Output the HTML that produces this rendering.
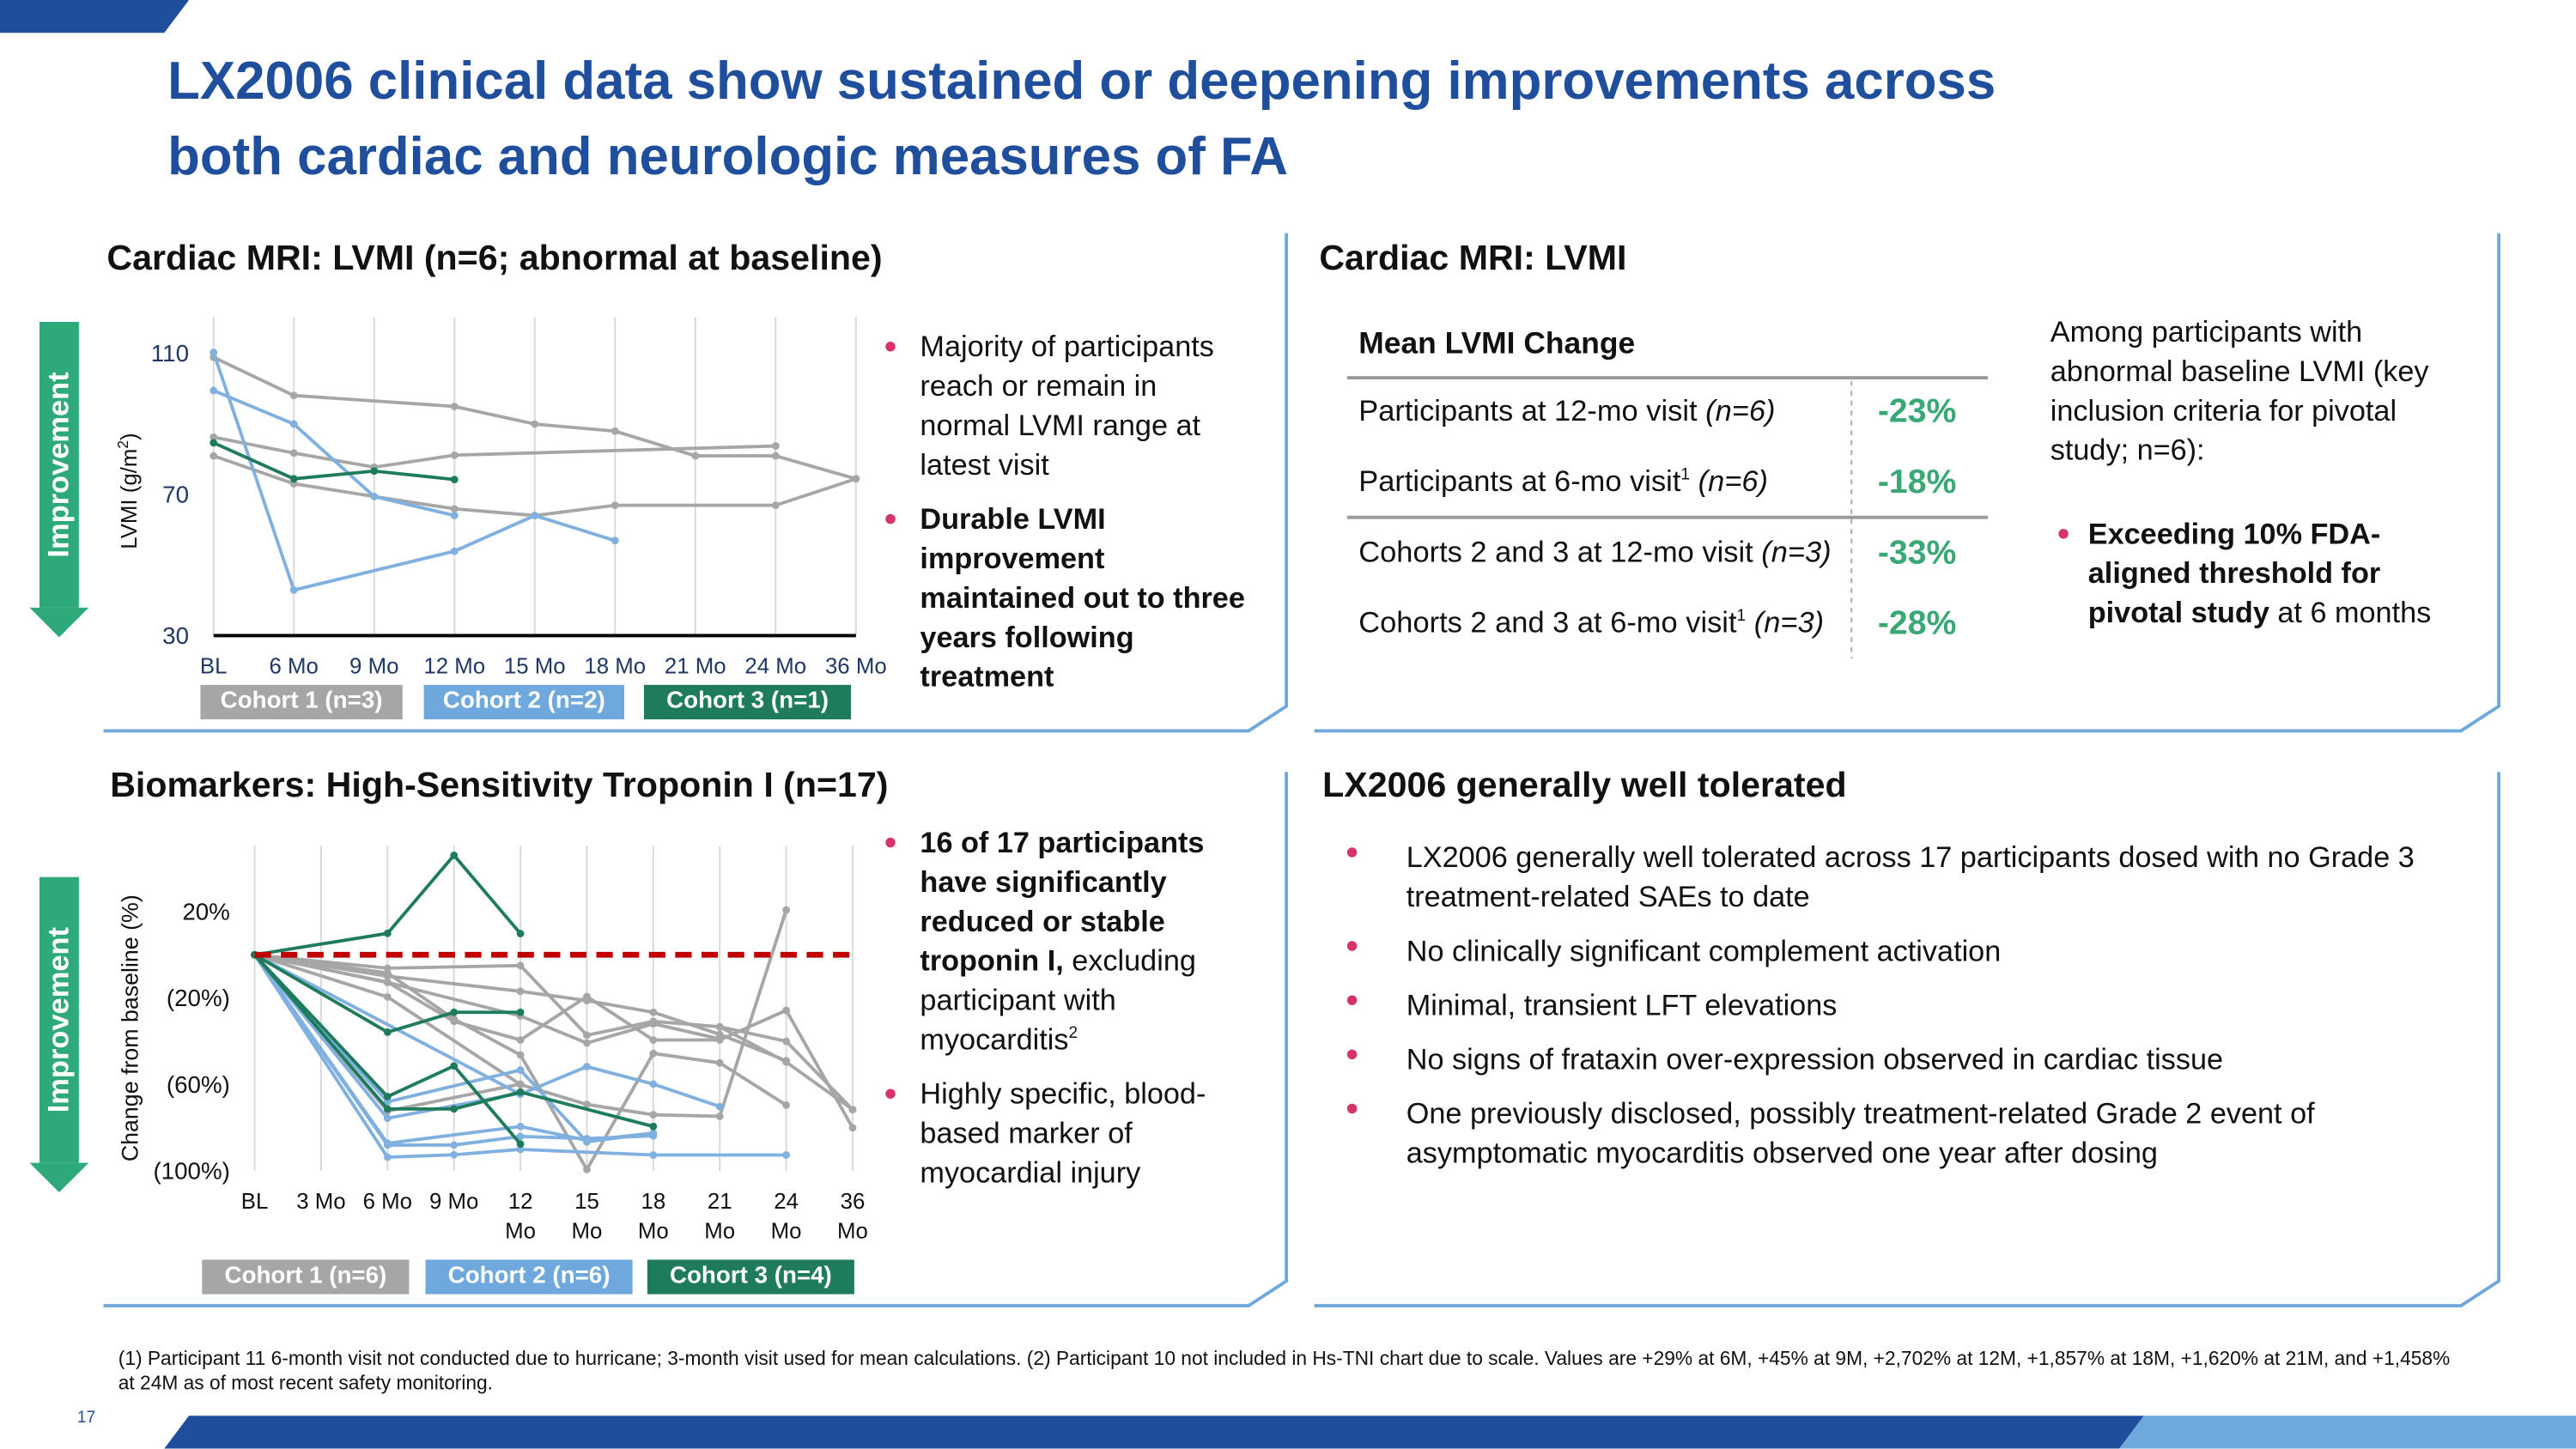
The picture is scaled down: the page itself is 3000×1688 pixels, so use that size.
<!DOCTYPE html>
<html><head><meta charset="utf-8"><style>
html,body{margin:0;padding:0;background:#fff;width:3000px;height:1687px;overflow:hidden}
#s{position:absolute;left:0;top:0;width:1568px;height:882px;transform:scale(1.91327);transform-origin:0 0;font-family:"Liberation Sans",sans-serif;color:#111}
.a{position:absolute;white-space:nowrap}
.t{color:#1f4e9c;font-weight:bold;font-size:32.3px}
.h{font-weight:bold;font-size:21.5px}
.b{font-size:17.9px;line-height:24px}
.dot{position:absolute;width:6px;height:6px;border-radius:50%;background:#d6336c}
.lg{position:absolute;color:#fff;font-weight:bold;font-size:14.5px;text-align:center;line-height:21px;height:21px}
</style></head><body><div id="s">
<svg width="1568" height="882" style="position:absolute;left:0;top:0">
<polygon points="0,0 115,0 100,20 0,20" fill="#1f4e9c"/>
<polygon points="115,862 1305,862 1290,882 100,882" fill="#1f4e9c"/>
<polygon points="1305,862 1568,862 1568,882 1290,882" fill="#6fa8dc"/>
<g fill="none" stroke="#6fa8dc" stroke-width="2">
<polyline points="63,445 760,445 783,430 783,142"/>
<polyline points="800,445 1498,445 1521,430 1521,142"/>
<polyline points="63,795 760,795 783,780 783,470"/>
<polyline points="800,795 1498,795 1521,780 1521,470"/>
</g>
<g fill="#2eaa7a">
<rect x="24" y="196" width="24" height="174"/><polygon points="18,370 54,370 36,388"/>
<rect x="24" y="534" width="24" height="174"/><polygon points="18,708 54,708 36,726"/>
</g>
<line x1="820" y1="230" x2="1210" y2="230" stroke="#999" stroke-width="2"/>
<line x1="820" y1="315" x2="1210" y2="315" stroke="#999" stroke-width="2"/>
<line x1="1127" y1="232" x2="1127" y2="401" stroke="#aaa" stroke-width="1" stroke-dasharray="3,3"/>
</svg>
<div class="a" style="left:36px;top:283px;transform:translate(-50%,-50%) rotate(-90deg);color:#fff;font-weight:bold;font-size:18px">Improvement</div>
<div class="a" style="left:36px;top:621px;transform:translate(-50%,-50%) rotate(-90deg);color:#fff;font-weight:bold;font-size:18px">Improvement</div>

<div class="a t" style="left:102px;top:31px">LX2006 clinical data show sustained or deepening improvements across</div>
<div class="a t" style="left:102px;top:77px">both cardiac and neurologic measures of FA</div>

<div class="a h" style="left:65px;top:145px">Cardiac MRI: LVMI (n=6; abnormal at baseline)</div>
<div class="a h" style="left:803px;top:145px">Cardiac MRI: LVMI</div>
<div class="a h" style="left:67px;top:466px">Biomarkers: High-Sensitivity Troponin I (n=17)</div>
<div class="a h" style="left:805px;top:466px">LX2006 generally well tolerated</div>

<svg id="c1" width="1568" height="882" style="position:absolute;left:0;top:0"></svg>
<svg id="c2" width="1568" height="882" style="position:absolute;left:0;top:0"></svg>

<div class="lg" style="left:122px;top:417px;width:123px;background:#a6a6a6">Cohort 1 (n=3)</div>
<div class="lg" style="left:258px;top:417px;width:122px;background:#6fa8dc">Cohort 2 (n=2)</div>
<div class="lg" style="left:392px;top:417px;width:126px;background:#1e7b5c">Cohort 3 (n=1)</div>
<div class="lg" style="left:123px;top:767px;width:126px;background:#a6a6a6">Cohort 1 (n=6)</div>
<div class="lg" style="left:259px;top:767px;width:126px;background:#6fa8dc">Cohort 2 (n=6)</div>
<div class="lg" style="left:394px;top:767px;width:126px;background:#1e7b5c">Cohort 3 (n=4)</div>

<div class="dot" style="left:539px;top:208px"></div>
<div class="a b" style="left:560px;top:199px">Majority of participants<br>reach or remain in<br>normal LVMI range at<br>latest visit</div>
<div class="dot" style="left:539px;top:313px"></div>
<div class="a b" style="left:560px;top:304px;font-weight:bold">Durable LVMI<br>improvement<br>maintained out to three<br>years following<br>treatment</div>
<div class="dot" style="left:539px;top:510px"></div>
<div class="a b" style="left:560px;top:501px"><b>16 of 17 participants<br>have significantly<br>reduced or stable<br>troponin I,</b> excluding<br>participant with<br>myocarditis<sup style="font-size:10px;line-height:0">2</sup></div>
<div class="dot" style="left:539px;top:663px"></div>
<div class="a b" style="left:560px;top:654px">Highly specific, blood-<br>based marker of<br>myocardial injury</div>

<div class="a" style="left:827px;top:198px;font-weight:bold;font-size:18.5px">Mean LVMI Change</div>
<div class="a" style="left:827px;top:240px;font-size:18px">Participants at 12-mo visit <i>(n=6)</i></div>
<div class="a" style="left:827px;top:283px;font-size:18px">Participants at 6-mo visit<sup style="font-size:10px;line-height:0">1</sup> <i>(n=6)</i></div>
<div class="a" style="left:827px;top:326px;font-size:18px">Cohorts 2 and 3 at 12-mo visit <i>(n=3)</i></div>
<div class="a" style="left:827px;top:369px;font-size:18px">Cohorts 2 and 3 at 6-mo visit<sup style="font-size:10px;line-height:0">1</sup> <i>(n=3)</i></div>
<div class="a" style="left:1143px;top:239px;font-size:20.5px;font-weight:bold;color:#3aa875">-23%</div>
<div class="a" style="left:1143px;top:282px;font-size:20.5px;font-weight:bold;color:#3aa875">-18%</div>
<div class="a" style="left:1143px;top:325px;font-size:20.5px;font-weight:bold;color:#3aa875">-33%</div>
<div class="a" style="left:1143px;top:368px;font-size:20.5px;font-weight:bold;color:#3aa875">-28%</div>
<div class="a b" style="left:1248px;top:190px">Among participants with<br>abnormal baseline LVMI (key<br>inclusion criteria for pivotal<br>study; n=6):</div>
<div class="dot" style="left:1253px;top:322px"></div>
<div class="a b" style="left:1271px;top:313px"><b>Exceeding 10% FDA-<br>aligned threshold for<br>pivotal study</b> at 6 months</div>

<div class="dot" style="left:820px;top:516px"></div>
<div class="a b" style="left:856px;top:510px">LX2006 generally well tolerated across 17 participants dosed with no Grade 3<br>treatment-related SAEs to date</div>
<div class="dot" style="left:820px;top:573px"></div>
<div class="a b" style="left:856px;top:567px">No clinically significant complement activation</div>
<div class="dot" style="left:820px;top:606px"></div>
<div class="a b" style="left:856px;top:600px">Minimal, transient LFT elevations</div>
<div class="dot" style="left:820px;top:639px"></div>
<div class="a b" style="left:856px;top:633px">No signs of frataxin over-expression observed in cardiac tissue</div>
<div class="dot" style="left:820px;top:672px"></div>
<div class="a b" style="left:856px;top:666px">One previously disclosed, possibly treatment-related Grade 2 event of<br>asymptomatic myocarditis observed one year after dosing</div>

<div class="a" style="left:72px;top:820px;font-size:11.9px;line-height:15px">(1) Participant 11 6-month visit not conducted due to hurricane; 3-month visit used for mean calculations. (2) Participant 10 not included in Hs-TNI chart due to scale. Values are +29% at 6M, +45% at 9M, +2,702% at 12M, +1,857% at 18M, +1,620% at 21M, and +1,458%<br>at 24M as of most recent safety monitoring.</div>
<div class="a" style="left:47px;top:858px;font-size:10px;color:#1f4e9c">17</div>

<script>
const NS='http://www.w3.org/2000/svg';
// ---- LVMI chart data ----
const lvmiCats=['BL','6 Mo','9 Mo','12 Mo','15 Mo','18 Mo','21 Mo','24 Mo','36 Mo'];
const lvmiTicks=[110,70,30];
const lvmiGray1=[108.8,98,null,94.9,89.9,87.9,80.9,80.9,74.4];
const lvmiGray2=[86.2,81.7,77.7,81.1,null,null,null,83.7,null];
const lvmiGray3=[80.9,73,69.4,65.9,64,66.9,null,66.9,74.4];
const lvmiBlue1=[110.2,42.9,null,53.9,64,56.9,null,null,null];
const lvmiBlue2=[99.4,89.9,69.4,64,null,null,null,null,null];
const lvmiGreen1=[84.6,74.4,76.6,74.2,null,null,null,null,null];
// ---- Troponin chart data ----
const tnCats=[['BL'],['3 Mo'],['6 Mo'],['9 Mo'],['12','Mo'],['15','Mo'],['18','Mo'],['21','Mo'],['24','Mo'],['36','Mo']];
const tnTicks=[20,-20,-60,-100];
const tnTickLabels=['20%','(20%)','(60%)','(100%)'];
const tnGray1=[0,null,-6.2,null,-5,-37.2,-30.8,-33.3,-49.6,-71.6];
const tnGray2=[0,null,-8.4,-29.7,-46.3,-99.3,-45.6,-50,-69.5,null];
const tnGray3=[0,null,-12.8,null,-28.3,-40.8,-31.9,-38.9,null,null];
const tnGray4=[0,null,-19.5,null,-60,-69.2,-74,-74.7,20.7,null];
const tnGray5=[0,null,-12.7,-30.8,-39.4,-19.3,-39.4,-39.4,-25.7,-80];
const tnGray6=[0,null,-72.3,null,-59.8,null,null,null,null,null];
const tnGray7=[0,null,-9.9,null,-16.9,-21.2,-26.6,-36.8,-49,null];
const tnGray8=[null,null,null,null,null,null,null,-33.3,-40,-71.6];
const tnBlue1=[0,null,null,null,-64.5,-51.7,-59.8,-70.2,null,null];
const tnBlue2=[0,null,-68,null,-53.3,-86.5,-82.5,null,null,null];
const tnBlue3=[0,null,-88,-88,-84,-85,-83.7,null,null,null];
const tnBlue4=[0,null,-87.2,null,-79.4,-85.8,-82.5,null,null,null];
const tnBlue5=[0,null,-93.6,-92.5,-90,null,-92.6,null,-92.6,null];
const tnBlue6=[0,null,-75.6,null,-64,null,null,null,null,null];
const tnGreen1=[0,null,9.9,46,9.8,null,null,null,null,null];
const tnGreen2=[0,null,-35.8,-26.6,-26.6,null,null,null,null,null];
const tnGreen3=[0,null,-65.6,-51.4,-87.5,null,null,null,null,null];
const tnGreen4=[0,null,-71.3,-71.3,-63.5,null,-79.4,null,null,null];

const GRAY='#a6a6a6',BLUE='#7fb0e0',GREEN='#1e7b5c';
function mk(svg,tag,attrs){const e=document.createElementNS(NS,tag);for(const k in attrs)e.setAttribute(k,attrs[k]);svg.appendChild(e);return e;}
function series(svg,vals,x,y,color,name){
  const pts=[];vals.forEach((v,i)=>{if(v!==null)pts.push([x(i),y(v)]);});
  const pl=mk(svg,'polyline',{points:pts.map(p=>p.join(',')).join(' '),fill:'none',stroke:color,'stroke-width':2});
  
  
  pts.forEach(p=>{const c=mk(svg,'circle',{cx:p[0],cy:p[1],r:2.3,fill:color});
    
    });
}
// LVMI chart
(function(){
  const s=document.getElementById('c1');
  const x0=130,x1=521,yTop=215,yBot=387;
  const x=i=>x0+i*(x1-x0)/(lvmiCats.length-1);
  const y=v=>yBot-(v-30)/(110-30)*(yBot-yTop);
  lvmiCats.forEach((c,i)=>{mk(s,'line',{x1:x(i),x2:x(i),y1:193,y2:yBot,stroke:'#d9d9d9','stroke-width':1});
    const t=mk(s,'text',{x:x(i),y:410,'text-anchor':'middle','font-size':13.5,fill:'#1f3864'});t.textContent=c;
    
    });
  mk(s,'line',{x1:x0,x2:x1,y1:yBot,y2:yBot,stroke:'#000','stroke-width':2});
  lvmiTicks.forEach(v=>{const t=mk(s,'text',{x:115,y:y(v)+5,'text-anchor':'end','font-size':14.5,fill:'#1f3864'});t.textContent=v;
    
    });
  const yl=mk(s,'text',{x:0,y:0,transform:'translate(83,299) rotate(-90)','text-anchor':'middle','font-size':13.5,fill:'#111'});
  yl.innerHTML='LVMI (g/m<tspan dy="-5" font-size="9">2</tspan><tspan dy="5">)</tspan>';
  
  
  series(s,lvmiGray1,x,y,GRAY,'lvmi-cohort1-a');series(s,lvmiGray2,x,y,GRAY,'lvmi-cohort1-b');series(s,lvmiGray3,x,y,GRAY,'lvmi-cohort1-c');
  series(s,lvmiBlue1,x,y,BLUE,'lvmi-cohort2-a');series(s,lvmiBlue2,x,y,BLUE,'lvmi-cohort2-b');
  series(s,lvmiGreen1,x,y,GREEN,'lvmi-cohort3-a');
})();
// Troponin chart
(function(){
  const s=document.getElementById('c2');
  const x0=155,x1=519,yTop=555,yBot=713;
  const x=i=>x0+i*(x1-x0)/(tnCats.length-1);
  const y=v=>yBot-(v+100)/120*(yBot-yTop);
  tnCats.forEach((c,i)=>{mk(s,'line',{x1:x(i),x2:x(i),y1:515,y2:yBot,stroke:'#d9d9d9','stroke-width':1});
    c.forEach((ln,k)=>{const t=mk(s,'text',{x:x(i),y:736+k*18,'text-anchor':'middle','font-size':13.5,fill:'#111'});t.textContent=ln;
      
      });});
  tnTicks.forEach((v,i)=>{const t=mk(s,'text',{x:140,y:y(v)+5,'text-anchor':'end','font-size':14.5,fill:'#111'});t.textContent=tnTickLabels[i];
    
    });
  const yl=mk(s,'text',{x:0,y:0,transform:'translate(84,626) rotate(-90)','text-anchor':'middle','font-size':14,fill:'#111'});
  yl.textContent='Change from baseline (%)';
  
  
  const gs=[tnGray1,tnGray2,tnGray3,tnGray4,tnGray5,tnGray6,tnGray7,tnGray8];
  gs.forEach((g,i)=>series(s,g,x,y,GRAY,'troponin-cohort1-'+(i+1)));
  [tnBlue1,tnBlue2,tnBlue3,tnBlue4,tnBlue5,tnBlue6].forEach((g,i)=>series(s,g,x,y,BLUE,'troponin-cohort2-'+(i+1)));
  [tnGreen1,tnGreen2,tnGreen3,tnGreen4].forEach((g,i)=>series(s,g,x,y,GREEN,'troponin-cohort3-'+(i+1)));
  const d=mk(s,'line',{x1:x(0),x2:x(tnCats.length-1),y1:y(0),y2:y(0),stroke:'#c00000','stroke-width':3.5,'stroke-dasharray':'10,6'});
  
  
})();
</script>
</div></body></html>
